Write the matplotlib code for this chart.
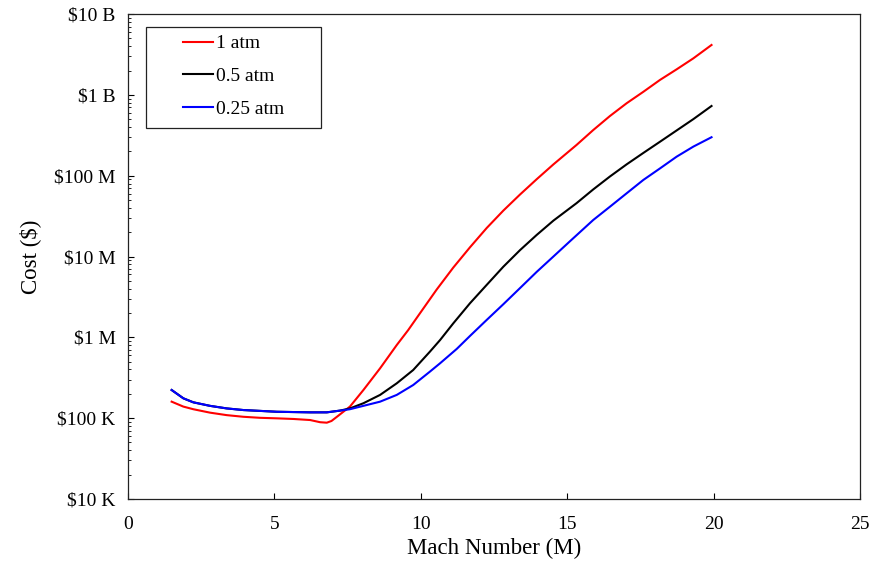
import matplotlib
matplotlib.use("Agg")
import matplotlib.pyplot as plt
from matplotlib.patches import Rectangle
from matplotlib.ticker import FixedLocator, LogLocator, NullFormatter

plt.rcParams['font.family'] = ['Liberation Serif', 'DejaVu Serif']

# Mach number vs cost ($)
mach_1atm = [1.49, 1.89, 2.23, 2.80, 3.37, 3.94, 4.51, 5.08, 5.65, 6.22, 6.56, 6.79,
             6.95, 7.15, 7.58, 8.04, 8.61, 9.18, 9.57, 9.97, 10.54, 11.11, 11.68,
             12.25, 12.82, 13.39, 13.96, 14.53, 15.32, 15.89, 16.46, 17.03,
             17.60, 18.17, 18.74, 19.31, 19.93]
cost_1atm = [1.60e5, 1.39e5, 1.29e5, 1.17e5, 1.09e5, 1.04e5, 1.01e5, 0.995e5, 0.977e5,
             0.948e5, 0.891e5, 0.879e5, 0.923e5, 1.05e5, 1.39e5, 2.23e5, 4.14e5,
             8.04e5, 1.23e6, 1.98e6, 3.89e6, 7.30e6, 1.30e7, 2.25e7, 3.70e7, 5.85e7,
             9.05e7, 1.38e8, 2.40e8, 3.67e8, 5.47e8, 7.87e8, 1.09e9, 1.53e9,
             2.07e9, 2.83e9, 4.14e9]

mach_05atm = [1.49, 1.89, 2.23, 2.80, 3.37, 3.94, 4.51, 5.08, 5.65, 6.22, 6.79, 7.24,
              7.58, 8.04, 8.61, 9.18, 9.74, 10.31, 10.66, 11.11, 11.68, 12.25, 12.82,
              13.39, 13.96, 14.53, 15.32, 15.89, 16.46, 17.03, 17.60, 18.17,
              18.74, 19.31, 19.93]
cost_05atm = [2.23e5, 1.76e5, 1.57e5, 1.42e5, 1.32e5, 1.26e5, 1.23e5, 1.20e5, 1.19e5,
              1.18e5, 1.18e5, 1.24e5, 1.32e5, 1.53e5, 1.94e5, 2.70e5, 3.94e5, 6.64e5,
              9.27e5, 1.49e6, 2.64e6, 4.45e6, 7.48e6, 1.20e7, 1.85e7, 2.78e7,
              4.57e7, 6.76e7, 9.77e7, 1.38e8, 1.91e8, 2.63e8, 3.63e8, 5.01e8, 7.28e8]

mach_025atm = [1.49, 1.89, 2.23, 2.80, 3.37, 3.94, 4.51, 5.08, 5.65, 6.22, 6.79, 7.24,
               7.58, 8.04, 8.61, 9.18, 9.74, 10.31, 10.66, 11.23, 11.68, 12.25, 12.82,
               13.39, 13.96, 14.53, 15.10, 15.89, 16.46, 17.03, 17.60, 18.17, 18.74,
               19.31, 19.93]
cost_025atm = [2.23e5, 1.76e5, 1.57e5, 1.42e5, 1.32e5, 1.26e5, 1.23e5, 1.20e5, 1.19e5,
               1.18e5, 1.18e5, 1.24e5, 1.29e5, 1.42e5, 1.60e5, 1.94e5, 2.57e5, 3.76e5,
               4.78e5, 7.20e5, 1.04e6, 1.64e6, 2.57e6, 4.07e6, 6.46e6, 1.00e7, 1.55e7,
               2.83e7, 4.13e7, 6.05e7, 8.85e7, 1.23e8, 1.72e8, 2.29e8, 2.99e8]

x_ticks = [0, 5, 10, 15, 20, 25]
y_ticks = [1e4, 1e5, 1e6, 1e7, 1e8, 1e9, 1e10]
y_tick_labels = ["$10 K", "$100 K", "$1 M", "$10 M", "$100 M", "$1 B", "$10 B"]

fig = plt.figure(figsize=(8.72, 5.63), dpi=100)
ax = fig.add_axes([0.1468, 0.1137, 0.8394, 0.8614])

ax.plot(mach_1atm, cost_1atm, color="#ff0000", lw=1.5, label="1 atm")
ax.plot(mach_05atm, cost_05atm, color="black", lw=1.5, label="0.5 atm")
ax.plot(mach_025atm, cost_025atm, color="#0000ff", lw=1.5, label="0.25 atm")

ax.set_yscale("log")
ax.set_xlim(0, 25)
ax.set_ylim(1e4, 1e10)
ax.xaxis.set_major_locator(FixedLocator(x_ticks))
ax.set_xticklabels([str(t) for t in x_ticks])
ax.yaxis.set_major_locator(FixedLocator(y_ticks))
ax.set_yticklabels(y_tick_labels)
ax.yaxis.set_minor_locator(LogLocator(base=10, subs=range(2, 10), numticks=20))
ax.yaxis.set_minor_formatter(NullFormatter())

ax.tick_params(axis="x", which="major", direction="in", length=4, width=0.8,
               labelsize=14, pad=12)
ax.tick_params(axis="y", which="major", direction="in", length=4, width=0.8,
               labelsize=14, pad=9)
ax.tick_params(axis="y", which="minor", direction="in", length=2.5, width=0.6)
ax.tick_params(top=False, right=False, which="both")

for sp in ax.spines.values():
    sp.set_linewidth(0.9)
    sp.set_color("#222222")

ax.set_xlabel("Mach Number (M)", fontsize=16.5, labelpad=4)
ax.set_ylabel("Cost ($)", fontsize=16.5, labelpad=9)

# legend box
ax.add_patch(Rectangle((0.0246, 0.765), 0.239, 0.208, transform=ax.transAxes,
                       facecolor="white", edgecolor="#222222", lw=0.9, zorder=4))
leg = ax.legend(loc="upper left", bbox_to_anchor=(0.0751, 0.957), frameon=False,
                fontsize=14, handlelength=1.55, handletextpad=0.15,
                labelspacing=0.78, borderpad=0, borderaxespad=0)
leg.set_zorder(5)

fig.savefig("out.png", dpi=100)
